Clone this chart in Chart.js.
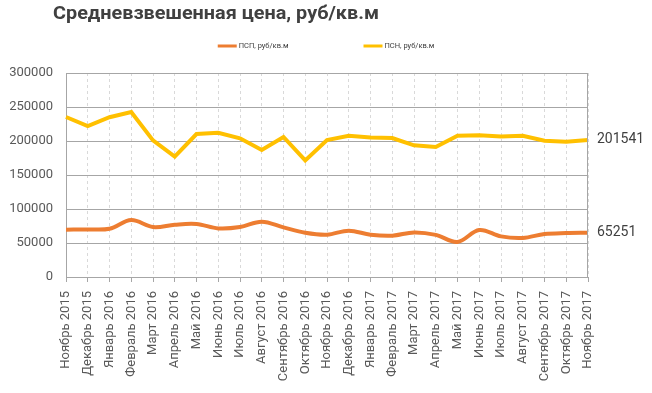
<!DOCTYPE html>
<html>
<head>
<meta charset="utf-8">
<script src="https://cdn.jsdelivr.net/npm/chart.js@4"></script>
<style>
    body { margin: 0; background: #fff; }
    #myChart { display: block; }
</style>
</head>
<body>
<canvas id="myChart" width="652" height="393"></canvas>
<script>
var chartTitle = 'Средневзвешенная цена, руб/кв.м';
var months = ['Ноябрь 2015', 'Декабрь 2015', 'Январь 2016', 'Февраль 2016', 'Март 2016', 'Апрель 2016',
    'Май 2016', 'Июнь 2016', 'Июль 2016', 'Август 2016', 'Сентябрь 2016', 'Октябрь 2016', 'Ноябрь 2016',
    'Декабрь 2016', 'Январь 2017', 'Февраль 2017', 'Март 2017', 'Апрель 2017', 'Май 2017', 'Июнь 2017',
    'Июль 2017', 'Август 2017', 'Сентябрь 2017', 'Октябрь 2017', 'Ноябрь 2017'];
var pspValues = [69600, 70000, 71000, 83800, 73500, 76900, 77900, 71500, 73500, 81300, 72900, 65100, 62200,
    68100, 62200, 60700, 65600, 62000, 51500, 69100, 59700, 57400, 63200, 64700, 65251];
var psnValues = [235300, 222000, 235000, 242600, 200900, 176900, 210300, 212200, 203900, 186700, 205900, 171500, 201500,
    207800, 205300, 204400, 193600, 191200, 207800, 208300, 206800, 207800, 200400, 199000, 201541];
var yTicks = [0, 50000, 100000, 150000, 200000, 250000, 300000];

var FONT = 'Roboto, "Noto Sans", sans-serif';

// title, legend, right border and last values
var decorPlugin = {
    id: 'decor',
    afterDraw: function (chart) {
        var ctx = chart.ctx;
        var area = chart.chartArea;

        // right frame line
        ctx.save();
        ctx.strokeStyle = '#a6a6a6';
        ctx.lineWidth = 1;
        ctx.beginPath();
        ctx.moveTo(Math.round(area.right) - 0.5, area.top);
        ctx.lineTo(Math.round(area.right) - 0.5, area.bottom);
        ctx.stroke();
        ctx.restore();

        // title
        ctx.save();
        ctx.font = 'bold 18px ' + FONT;
        ctx.fillStyle = '#404040';
        ctx.textBaseline = 'alphabetic';
        var tw = ctx.measureText(chartTitle).width;
        var sx = 326 / tw;
        ctx.translate(53, 19);
        ctx.scale(sx, 1);
        ctx.fillText(chartTitle, 0, 0);
        ctx.restore();

        // legend
        ctx.save();
        ctx.font = '7.5px ' + FONT;
        ctx.textBaseline = 'middle';
        var ds = chart.data.datasets;
        var widths = [];
        var total = 0;
        for (var i = 0; i < ds.length; i++) {
            var w = 19 + 2 + ctx.measureText(ds[i].label).width;
            widths.push(w);
            total += w;
        }
        total += 75 * (ds.length - 1);
        var lx = chart.width / 2 - total / 2;
        var ly = 46;
        for (i = 0; i < ds.length; i++) {
            ctx.strokeStyle = ds[i].borderColor;
            ctx.lineWidth = 3;
            ctx.beginPath();
            ctx.moveTo(lx, ly);
            ctx.lineTo(lx + 19, ly);
            ctx.stroke();
            ctx.fillStyle = '#404040';
            ctx.fillText(ds[i].label, lx + 21, ly);
            lx += widths[i] + 75;
        }
        ctx.restore();

        // last values on the right
        ctx.save();
        ctx.font = '14px ' + FONT;
        ctx.fillStyle = '#404040';
        ctx.textBaseline = 'middle';
        for (i = 0; i < ds.length; i++) {
            var meta = chart.getDatasetMeta(i);
            var last = meta.data[meta.data.length - 1];
            var v = ds[i].data[ds[i].data.length - 1];
            ctx.fillText(String(v), area.right + 9, last.y);
        }
        ctx.restore();
    }
};

var myChart = new Chart(document.getElementById('myChart'), {
    type: 'line',
    data: {
        labels: months,
        datasets: [{
            label: 'ПСП, руб/кв.м',
            data: pspValues,
            borderColor: '#ED7D31',
            backgroundColor: '#ED7D31',
            borderWidth: 4,
            pointRadius: 0,
            tension: 0.35,
            fill: false
        }, {
            label: 'ПСН, руб/кв.м',
            data: psnValues,
            borderColor: '#FFC000',
            backgroundColor: '#FFC000',
            borderWidth: 4,
            pointRadius: 0,
            tension: 0,
            fill: false
        }]
    },
    options: {
        responsive: false,
        devicePixelRatio: 1,
        animation: false,
        layout: { padding: { top: 73, right: 64, left: 0, bottom: 0 } },
        plugins: {
            legend: { display: false },
            title: { display: false },
            tooltip: { enabled: false }
        },
        scales: {
            x: {
                offset: false,
                grid: {
                    color: '#d9d9d9',
                    lineWidth: 1,
                    drawTicks: true,
                    tickLength: 5,
                    tickColor: '#a6a6a6'
                },
                border: { display: true, color: '#a6a6a6', dash: [3, 3] },
                ticks: {
                    autoSkip: false,
                    minRotation: 90,
                    maxRotation: 90,
                    padding: 9,
                    color: '#595959',
                    font: { family: FONT, size: 13 }
                },
                afterFit: function (scale) { scale.height = 116; }
            },
            y: {
                min: 0,
                max: 300000,
                afterBuildTicks: function (scale) {
                    scale.ticks = yTicks.map(function (v) { return { value: v }; });
                },
                grid: { color: '#a6a6a6', lineWidth: 1, drawTicks: false },
                border: { display: true, color: '#a6a6a6' },
                ticks: {
                    padding: 13,
                    color: '#595959',
                    font: { family: FONT, size: 13 },
                    callback: function (value) { return String(value); }
                },
                afterFit: function (scale) { scale.width = 66; }
            }
        }
    },
    plugins: [decorPlugin]
});
</script>
</body>
</html>
